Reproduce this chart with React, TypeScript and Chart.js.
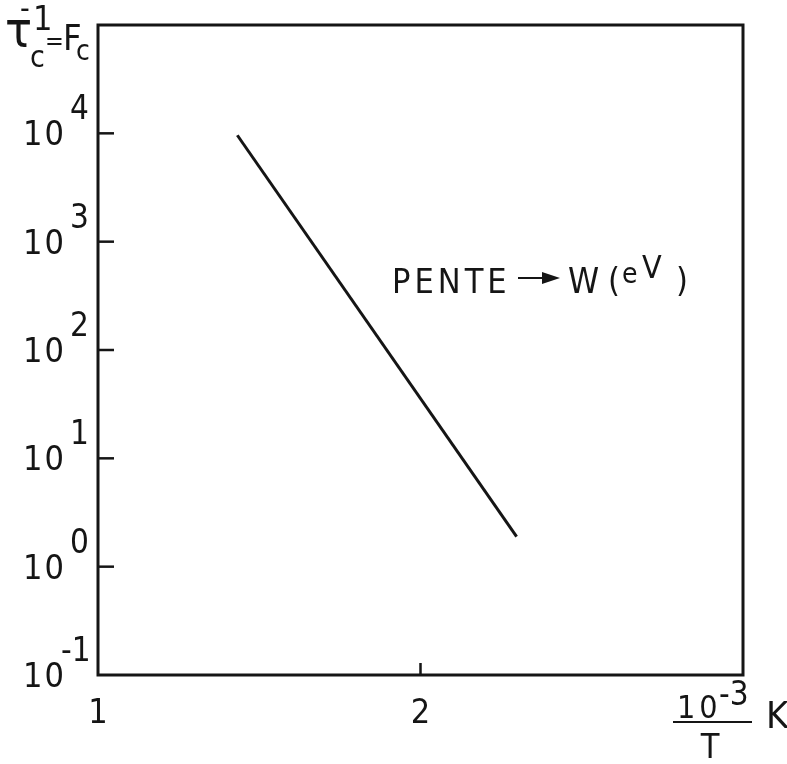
import { useEffect, useRef } from 'react';
import { Chart, registerables } from 'chart.js';

Chart.register(...registerables);

// 10^3 / T (K^-1) and the corresponding inverse correlation time
const inverseTemperature = [1.432, 2.298];
const relaxationRate = [9600, 1.89];

// Axis ticks
const yDecades = [-1, 0, 1, 2, 3, 4];
const xTickValues = [1, 2];
const xTickLabels = ['1', '2'];

const X_MIN = 1;
const X_MAX = 3;
const Y_MIN = 0.1;
const Y_MAX = 1e5;

const FONT = "'DejaVu Sans Condensed', 'DejaVu Sans', sans-serif";
const INK = '#151515';

type Ctx = CanvasRenderingContext2D;

function txt(ctx: Ctx, s: string, x: number, y: number, size: number, align: CanvasTextAlign = 'left', spacing = 0) {
  ctx.font = `${size}px ${FONT}`;
  ctx.textAlign = align;
  ctx.textBaseline = 'alphabetic';
  (ctx as any).letterSpacing = `${spacing}px`;
  ctx.fillText(s, x, y);
  (ctx as any).letterSpacing = '0px';
}

const decorations = {
  id: 'decorations',
  afterDraw(chart: Chart) {
    const ctx = chart.ctx;
    const { left, right, top, bottom } = chart.chartArea;
    const xs = chart.scales.x;
    const ys = chart.scales.y;
    ctx.save();
    ctx.strokeStyle = INK;
    ctx.fillStyle = INK;

    // frame
    ctx.lineWidth = 3;
    ctx.strokeRect(left, top, right - left, bottom - top);

    // inward ticks on the y axis
    ctx.lineWidth = 2.5;
    yDecades.forEach((d) => {
      const py = ys.getPixelForValue(Math.pow(10, d));
      if (py > top + 2 && py < bottom - 2) {
        ctx.beginPath();
        ctx.moveTo(left, py);
        ctx.lineTo(left + 16, py);
        ctx.stroke();
      }
      // "10" with exponent
      txt(ctx, '10', left - 32, py + 12, 34, 'right', 2);
      txt(ctx, String(d), left - 28 - (d < 0 ? 9 : 0), py - 14, 33, 'left');
    });

    // x ticks and labels
    xTickValues.forEach((v, i) => {
      const px = xs.getPixelForValue(v);
      if (px > left + 2 && px < right - 2) {
        ctx.beginPath();
        ctx.moveTo(px, bottom);
        ctx.lineTo(px, bottom - 12);
        ctx.stroke();
      }
      txt(ctx, xTickLabels[i], px, bottom + 48, 34, 'center');
    });

    // x axis title: 10^-3 / T  K
    txt(ctx, '10', right - 66, bottom + 43, 32, 'left', 4);
    txt(ctx, '-3', right - 24, bottom + 30, 33, 'left');
    ctx.lineWidth = 2;
    ctx.beginPath();
    ctx.moveTo(right - 70, bottom + 47);
    ctx.lineTo(right + 9, bottom + 47);
    ctx.stroke();
    txt(ctx, 'T', right - 33, bottom + 83, 34, 'center');
    txt(ctx, 'K', right + 23, bottom + 53, 38, 'left');

    // y axis title: τc^-1 = Fc
    txt(ctx, 'τ', 5, top + 22, 50, 'left');
    txt(ctx, '-', 20, top - 7, 30, 'left');
    txt(ctx, '1', 33, top + 5, 34, 'left');
    txt(ctx, 'c', 30, top + 42, 30, 'left');
    txt(ctx, '=', 45, top + 24, 25, 'left');
    txt(ctx, 'F', 63, top + 25, 36, 'left');
    txt(ctx, 'c', 76, top + 35, 28, 'left');

    // slope annotation
    const ax = left + 294;
    const ay = top + 268;
    txt(ctx, 'PENTE', ax, ay, 34, 'left', 4);
    ctx.lineWidth = 2;
    ctx.beginPath();
    ctx.moveTo(ax + 126, ay - 15);
    ctx.lineTo(ax + 154, ay - 15);
    ctx.stroke();
    ctx.beginPath();
    ctx.moveTo(ax + 168, ay - 15);
    ctx.lineTo(ax + 150, ay - 21);
    ctx.lineTo(ax + 150, ay - 9);
    ctx.closePath();
    ctx.fill();
    txt(ctx, 'W', ax + 176, ay, 35, 'left');
    txt(ctx, '(', ax + 216, ay - 1, 34, 'left');
    txt(ctx, 'e', ax + 230, ay - 10, 28, 'left');
    txt(ctx, 'V', ax + 250, ay - 15, 32, 'left');
    txt(ctx, ')', ax + 284, ay - 1, 34, 'left');

    ctx.restore();
  },
};

export default function App() {
  const canvasRef = useRef<HTMLCanvasElement | null>(null);

  useEffect(() => {
    const canvas = canvasRef.current;
    if (!canvas) return;
    const chart = new Chart(canvas, {
      type: 'line',
      data: {
        datasets: [
          {
            data: inverseTemperature.map((x, i) => ({ x, y: relaxationRate[i] })),
            borderColor: INK,
            borderWidth: 3,
            pointRadius: 0,
            fill: false,
            tension: 0,
          },
        ],
      },
      options: {
        responsive: false,
        animation: false,
        devicePixelRatio: 1,
        layout: { padding: { left: 98, right: 44, top: 25, bottom: 89 } },
        plugins: { legend: { display: false }, tooltip: { enabled: false } },
        scales: {
          x: { type: 'linear', min: X_MIN, max: X_MAX, display: false },
          y: { type: 'logarithmic', min: Y_MIN, max: Y_MAX, display: false },
        },
      },
      plugins: [decorations],
    });
    return () => chart.destroy();
  }, []);

  return (
    <div style={{ position: 'absolute', left: 0, top: 0, width: 787, height: 764, background: '#fff' }}>
      <canvas ref={canvasRef} width={787} height={764} style={{ display: 'block' }} />
    </div>
  );
}
